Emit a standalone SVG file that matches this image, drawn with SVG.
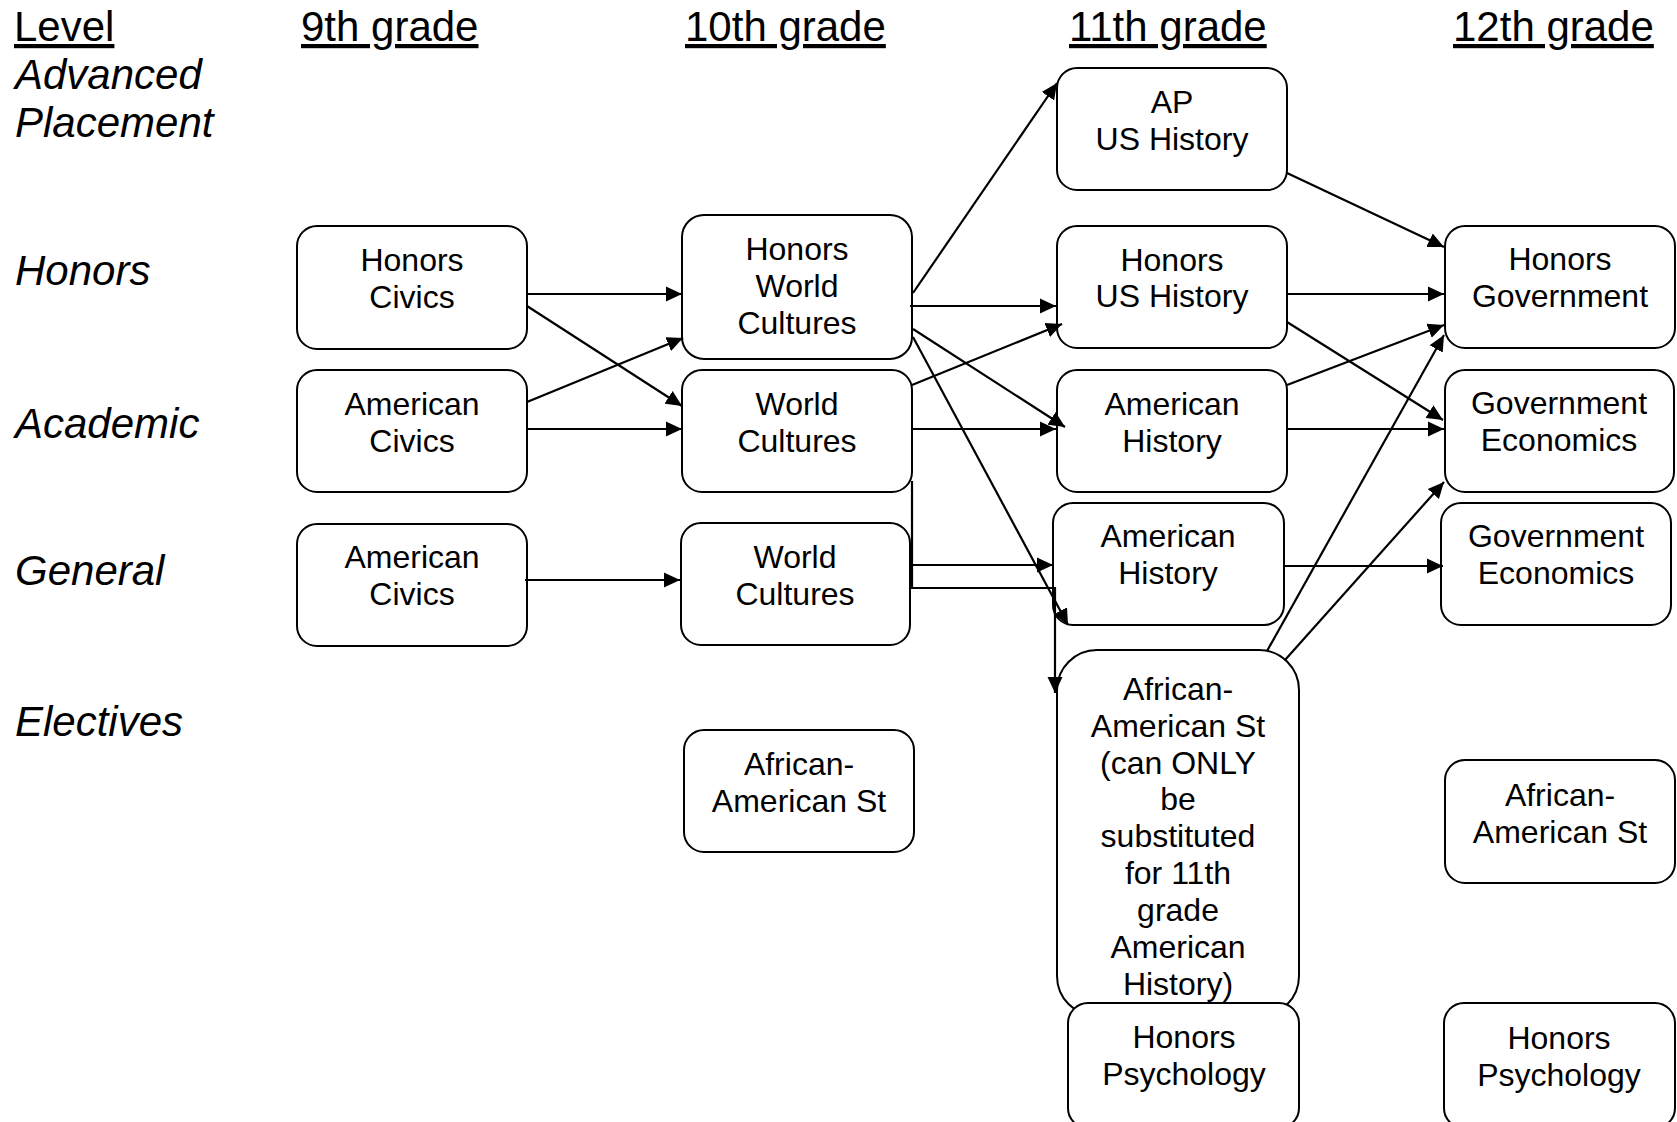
<svg xmlns="http://www.w3.org/2000/svg" width="1677" height="1122" viewBox="0 0 1677 1122">
<style>
.hdr{font-family:"Liberation Sans",Arial,sans-serif;font-size:42px;text-decoration:underline;fill:#000}
.lvl{font-family:"Liberation Sans",Arial,sans-serif;font-size:42px;font-style:italic;fill:#000}
.box{fill:#fff;stroke:#000;stroke-width:2}
.t{font-family:"Liberation Sans",Arial,sans-serif;font-size:32px;text-anchor:middle;fill:#000}
.c{fill:none;stroke:#000;stroke-width:2.2}
</style>
<defs>
<marker id="arr" markerUnits="userSpaceOnUse" markerWidth="17" markerHeight="16" refX="16" refY="8" orient="auto"><path d="M0,0.5 L16,8 L0,15.5 z" fill="#000"/></marker>
</defs>
<g id="headers">
<text class="hdr" x="14" y="41">Level</text>
<text class="hdr" x="301" y="41">9th grade</text>
<text class="hdr" x="685" y="41">10th grade</text>
<text class="hdr" x="1069" y="41">11th grade</text>
<text class="hdr" x="1453" y="41">12th grade</text>
</g>
<g id="levels">
<text class="lvl" x="15" y="89">Advanced</text>
<text class="lvl" x="15" y="137">Placement</text>
<text class="lvl" x="15" y="285">Honors</text>
<text class="lvl" x="15" y="438">Academic</text>
<text class="lvl" x="15" y="585">General</text>
<text class="lvl" x="15" y="736">Electives</text>
</g>
<g id="hon-civics"><rect class="box" x="297" y="226" width="230" height="123" rx="20"/><text class="t" x="412" y="271">Honors</text><text class="t" x="412" y="308">Civics</text></g>
<g id="am-civics-acad"><rect class="box" x="297" y="370" width="230" height="122" rx="20"/><text class="t" x="412" y="415">American</text><text class="t" x="412" y="452">Civics</text></g>
<g id="am-civics-gen"><rect class="box" x="297" y="524" width="230" height="122" rx="20"/><text class="t" x="412" y="568">American</text><text class="t" x="412" y="605">Civics</text></g>
<g id="hon-wc"><rect class="box" x="682" y="215" width="230" height="144" rx="22"/><text class="t" x="797" y="260">Honors</text><text class="t" x="797" y="297">World</text><text class="t" x="797" y="334">Cultures</text></g>
<g id="wc-acad"><rect class="box" x="682" y="370" width="230" height="122" rx="20"/><text class="t" x="797" y="415">World</text><text class="t" x="797" y="452">Cultures</text></g>
<g id="wc-gen"><rect class="box" x="681" y="523" width="229" height="122" rx="20"/><text class="t" x="795" y="568">World</text><text class="t" x="795" y="605">Cultures</text></g>
<g id="aa-10"><rect class="box" x="684" y="730" width="230" height="122" rx="20"/><text class="t" x="799" y="775">African-</text><text class="t" x="799" y="812">American St</text></g>
<g id="ap-ush"><rect class="box" x="1057" y="68" width="230" height="122" rx="20"/><text class="t" x="1172" y="113">AP</text><text class="t" x="1172" y="150">US History</text></g>
<g id="hon-ush"><rect class="box" x="1057" y="226" width="230" height="122" rx="20"/><text class="t" x="1172" y="271">Honors</text><text class="t" x="1172" y="307">US History</text></g>
<g id="amh-acad"><rect class="box" x="1057" y="370" width="230" height="122" rx="20"/><text class="t" x="1172" y="415">American</text><text class="t" x="1172" y="452">History</text></g>
<g id="amh-gen"><rect class="box" x="1053" y="503" width="231" height="122" rx="20"/><text class="t" x="1168" y="547">American</text><text class="t" x="1168" y="584">History</text></g>
<g id="aa-11"><rect class="box" x="1057" y="650" width="242" height="366" rx="40"/>
<text class="t" x="1178" y="700">African-</text><text class="t" x="1178" y="737">American St</text><text class="t" x="1178" y="774">(can ONLY</text><text class="t" x="1178" y="810">be</text><text class="t" x="1178" y="847">substituted</text><text class="t" x="1178" y="884">for 11th</text><text class="t" x="1178" y="921">grade</text><text class="t" x="1178" y="958">American</text><text class="t" x="1178" y="995">History)</text></g>
<g id="psych-11"><rect class="box" x="1068" y="1003" width="231" height="125" rx="20"/><text class="t" x="1184" y="1048">Honors</text><text class="t" x="1184" y="1085">Psychology</text></g>
<g id="hon-gov"><rect class="box" x="1445" y="226" width="230" height="122" rx="20"/><text class="t" x="1560" y="270">Honors</text><text class="t" x="1560" y="307">Government</text></g>
<g id="gov-econ-acad"><rect class="box" x="1445" y="370" width="229" height="122" rx="20"/><text class="t" x="1559" y="414">Government</text><text class="t" x="1559" y="451">Economics</text></g>
<g id="gov-econ-gen"><rect class="box" x="1441" y="503" width="230" height="122" rx="20"/><text class="t" x="1556" y="547">Government</text><text class="t" x="1556" y="584">Economics</text></g>
<g id="aa-12"><rect class="box" x="1445" y="760" width="230" height="123" rx="20"/><text class="t" x="1560" y="806">African-</text><text class="t" x="1560" y="843">American St</text></g>
<g id="psych-12"><rect class="box" x="1444" y="1003" width="231" height="125" rx="20"/><text class="t" x="1559" y="1049">Honors</text><text class="t" x="1559" y="1086">Psychology</text></g>
<g id="connectors">
<path class="c" d="M527,294 H682" marker-end="url(#arr)"/>
<path class="c" d="M527,306 L682,406" marker-end="url(#arr)"/>
<path class="c" d="M527,402 L683,338" marker-end="url(#arr)"/>
<path class="c" d="M527,429 H682" marker-end="url(#arr)"/>
<path class="c" d="M525,580 H680" marker-end="url(#arr)"/>
<path class="c" d="M913,293 L1057,83" marker-end="url(#arr)"/>
<path class="c" d="M910,306 H1056" marker-end="url(#arr)"/>
<path class="c" d="M913,329 L1065,427" marker-end="url(#arr)"/>
<path class="c" d="M913,337 L1068,625" marker-end="url(#arr)"/>
<path class="c" d="M912,385 L1062,324" marker-end="url(#arr)"/>
<path class="c" d="M912,429 H1056" marker-end="url(#arr)"/>
<path class="c" d="M912,481 V588 H1055 V693" marker-end="url(#arr)"/>
<path class="c" d="M912,565 H1053" marker-end="url(#arr)"/>
<path class="c" d="M1287,173 L1444,247" marker-end="url(#arr)"/>
<path class="c" d="M1287,294 H1444" marker-end="url(#arr)"/>
<path class="c" d="M1287,322 L1443,420" marker-end="url(#arr)"/>
<path class="c" d="M1287,385 L1444,325" marker-end="url(#arr)"/>
<path class="c" d="M1287,429 H1444" marker-end="url(#arr)"/>
<path class="c" d="M1284,566 H1443" marker-end="url(#arr)"/>
<path class="c" d="M1267,651 L1444,335" marker-end="url(#arr)"/>
<path class="c" d="M1285,660 L1444,482" marker-end="url(#arr)"/>
</g>
</svg>
